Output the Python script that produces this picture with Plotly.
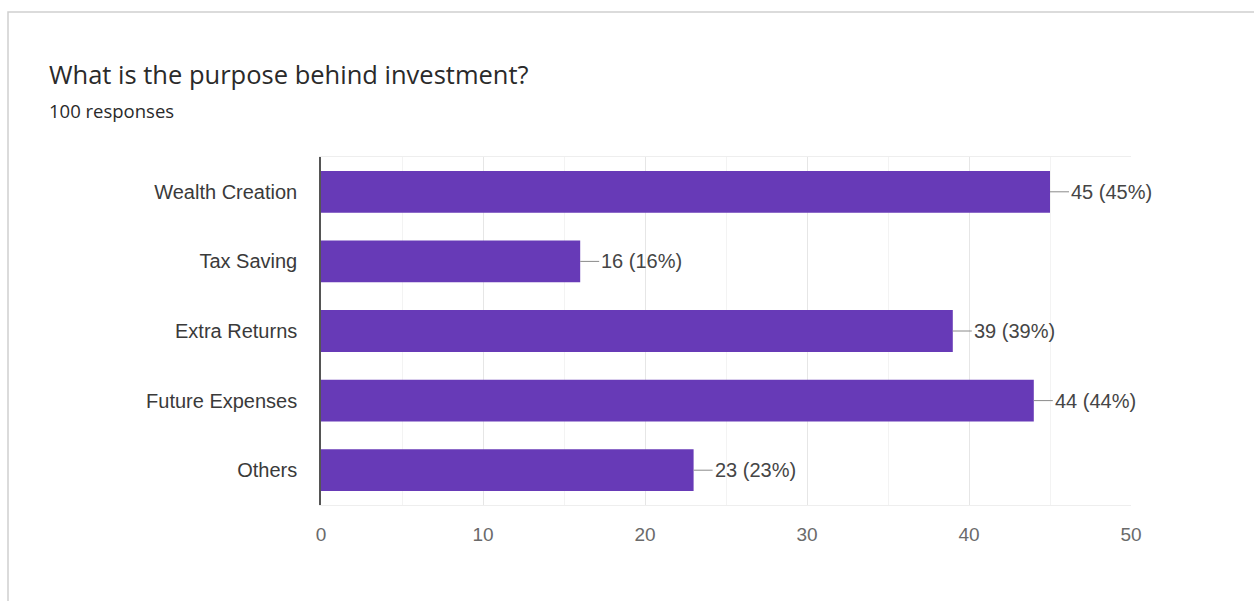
import plotly.graph_objects as go

# Survey question and answers
title_text = "What is the purpose behind investment?"
subtitle_text = "100 responses"
categories = ["Wealth Creation", "Tax Saving", "Extra Returns", "Future Expenses", "Others"]
counts = [45, 16, 39, 44, 23]
total_responses = 100
x_ticks = [0, 10, 20, 30, 40, 50]

W, H = 1254, 601
L, R, T, B = 321, 123, 157, 96
PW, PH = W - L - R, H - T - B

def px_x(px):
    return (px - L) / PW

def px_y(py):
    return 1 - (py - T) / PH

BAR = "#673ab7"
LABEL_FONT = "Liberation Sans, Arial"

fig = go.Figure()
fig.add_trace(go.Bar(
    x=counts, y=categories, orientation="h",
    marker=dict(color=BAR, line=dict(width=0)),
    width=0.6, hoverinfo="x+y",
))

# Count and share labels, joined to the bar end by a short leader line
for cat, n in zip(categories, counts):
    pct = round(100 * n / total_responses)
    fig.add_annotation(
        x=n, y=cat, xref="x", yref="y",
        text=f"{n} ({pct}%)",
        showarrow=True, arrowhead=0, arrowwidth=1, arrowcolor="#8a8a8a",
        ax=19, ay=0, xanchor="left", standoff=0, startstandoff=0,
        font=dict(family=LABEL_FONT, size=20, color="#454545"),
    )

# Heading
fig.add_annotation(
    x=px_x(47), y=px_y(74), xref="paper", yref="paper",
    text=title_text, showarrow=False, xanchor="left", yanchor="middle",
    font=dict(family="Open Sans, Roboto", size=25.5, color="#2a2a2a"),
)
fig.add_annotation(
    x=px_x(47), y=px_y(110), xref="paper", yref="paper",
    text=subtitle_text, showarrow=False, xanchor="left", yanchor="middle",
    font=dict(family="Open Sans, Roboto", size=18.5, color="#2a2a2a"),
)

# Card outline
fig.add_shape(
    type="rect", xref="paper", yref="paper",
    x0=px_x(8), x1=px_x(W + 20), y0=px_y(H + 20), y1=px_y(12),
    line=dict(color="#d0d0d0", width=1.5), fillcolor="rgba(0,0,0,0)", layer="below",
)

fig.update_layout(
    width=W, height=H,
    margin=dict(l=L, r=R, t=T, b=B, pad=0),
    paper_bgcolor="white", plot_bgcolor="white",
    showlegend=False, bargap=0.4,
)
fig.update_xaxes(
    range=[0, 50], tickvals=x_ticks,
    showgrid=True, gridcolor="#e6e6e6", gridwidth=1,
    minor=dict(dtick=5, showgrid=True, gridcolor="#f3f3f3", gridwidth=1),
    showline=True, linecolor="#eeeeee", linewidth=1, mirror=True,
    zeroline=False, ticks="",
    tickfont=dict(family=LABEL_FONT, size=19, color="#6a6a6a"),
    ticklabelstandoff=12,
)
fig.update_yaxes(
    autorange="reversed",
    showgrid=False, zeroline=False,
    showline=True, linecolor="#555555", linewidth=1.5,
    ticks="",
    tickfont=dict(family=LABEL_FONT, size=20, color="#3a3a3a"),
    ticklabelstandoff=18,
)

fig.write_html("out.html")
